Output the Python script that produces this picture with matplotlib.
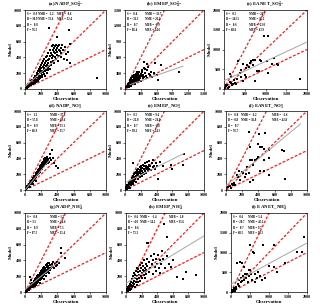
import matplotlib
matplotlib.use("Agg")
import matplotlib.pyplot as plt
import numpy as np

plt.rcParams['font.family'] = ['Liberation Serif', 'DejaVu Serif']
plt.rcParams['font.weight'] = 'bold'
plt.rcParams['mathtext.default'] = 'regular'

titles = ["(a) NADP_SO$_4^{2-}$", "(b) EMEP_SO$_4^{2-}$", "(c) EANET_SO$_4^{2-}$",
          "(d) NADP_NO$_3^{-}$", "(e) EMEP_NO$_3^{-}$", "(f) EANET_NO$_3^{-}$",
          "(g) NADP_NH$_4^{+}$", "(h) EMEP_NH$_4^{+}$", "(i) EANET_NH$_4^{+}$"]
limits = [1000, 1500, 2000, 1000, 1000, 1000, 1000, 1000, 2000]
tick_steps = [200, 300, 500, 200, 200, 200, 200, 200, 500]

# stats per panel
S = [0.9, 0.4, 0.5, 1.2, 0.5, 0.8, 0.8, 0.6, 0.6]
B = [30.9, -31.3, -141.5, 57.8, -22.0, -8.8, 3.5, -4.0, -28.7]
R = [0.8, 0.7, 0.6, 0.9, 0.7, 0.7, 0.9, 0.6, 0.7]
F = [76.5, 86.4, 68.6, 66.9, 90.2, 76.7, 87.5, 75.3, 60.5]
NMB = [2.2, -13.7, -24.7, 37.6, 9.4, 6.2, 1.2, -1.4, 5.4]
NME = [32.6, 26.2, 36.2, 39.6, 24.9, 36.8, 24.6, 34.2, 45.1]
MFB = [8.6, -6.9, -23.0, 33.1, -4.8, -2.6, 7.1, 1.0, 9.7]
MFE = [32.4, 24.6, 43.9, 35.7, 24.3, 42.8, 25.4, 35.6, 50.3]

# regression lines (slope, intercept, x range)
reg_slope = [0.9, 0.35, 0.49, 1.25, 0.5, 0.85, 0.85, 0.6, 0.52]
reg_int = [30, 50, 210, 0, 90, 55, 30, 110, 200]
reg_x0 = [0, 95, 0, 0, 20, 0, 0, 10, 0]
reg_x1 = [500, 1100, 1980, 300, 744, 920, 420, 1000, 1980]

a_pts = [(10,20),(15,30),(20,15),(25,40),(30,25),(35,50),(40,30),(45,60),(50,45),(55,35),(60,70),(65,55),(70,80),(75,50),(80,95),(85,65),(90,110),(95,80),(100,60),(100,120),(105,90),(110,140),(115,100),(120,75),(120,160),(125,130),(130,110),(135,170),(140,90),(140,150),(145,200),(150,120),(150,180),(155,140),(160,230),(160,100),(165,190),(170,160),(170,250),(175,130),(180,210),(180,280),(185,170),(190,240),(190,140),(195,300),(200,200),(200,260),(205,180),(210,330),(210,230),(215,150),(220,280),(220,360),(225,210),(230,250),(230,310),(235,190),(240,380),(240,270),(245,230),(250,330),(250,160),(255,290),(260,400),(260,240),(265,350),(270,200),(270,310),(275,420),(280,270),(280,370),(285,240),(290,330),(290,460),(295,290),(300,380),(300,767),(305,250),(310,420),(310,500),(315,340),(320,460),(325,300),(330,540),(330,390),(335,430),(340,360),(345,500),(350,420),(350,560),(355,470),(360,330),(360,520),(365,400),(370,540),(375,450),(380,380),(380,500),(385,560),(390,430),(395,520),(400,664),(400,470),(405,360),(410,540),(415,500),(420,420),(425,560),(430,480),(440,520),(445,400),(450,460),(460,560),(470,490),(480,380),(490,530),(500,440),(514,365),(530,470),(547,747),(555,573),(555,324),(893,137)]
b_pts = [(20,40),(30,60),(40,30),(50,80),(55,50),(60,100),(65,70),(70,40),(75,120),(80,90),(85,60),(90,140),(95,110),(100,80),(100,170),(105,130),(110,100),(115,60),(120,150),(120,200),(125,120),(130,90),(135,170),(140,140),(140,220),(145,110),(150,180),(155,150),(160,240),(160,120),(165,200),(170,170),(175,140),(180,260),(180,210),(185,100),(190,180),(195,230),(200,150),(200,290),(210,200),(215,260),(220,130),(220,320),(225,230),(230,180),(240,300),(240,210),(250,160),(250,260),(260,220),(270,330),(275,180),(280,250),(290,210),(300,280),(315,352),(310,160),(320,240),(330,330),(340,200),(350,270),(360,390),(365,510),(370,230),(378,384),(380,300),(400,250),(410,478),(410,360),(420,210),(441,415),(450,290),(473,258),(500,330),(520,230),(560,300),(567,497),(600,260),(630,164),(693,447),(1020,315)]
c_pts = [(30,30),(40,84),(60,110),(73,109),(97,25),(110,60),(137,168),(137,378),(160,140),(178,311),(200,100),(218,126),(240,220),(260,150),(300,126),(320,250),(348,714),(380,400),(400,300),(420,480),(460,630),(460,210),(500,350),(520,520),(542,294),(560,600),(600,560),(620,650),(640,700),(688,731),(700,600),(745,731),(745,210),(785,450),(850,445),(866,731),(900,700),(955,1345),(1028,714),(1052,395),(1069,1345),(1150,630),(1206,773),(1271,630),(1300,600),(1838,250)]
d_pts = [(5,10),(10,15),(15,20),(20,25),(20,35),(25,30),(30,45),(35,40),(40,55),(45,60),(50,50),(50,75),(55,70),(60,40),(60,80),(65,90),(70,75),(70,100),(75,110),(80,95),(85,120),(90,105),(90,130),(95,140),(100,70),(100,115),(100,150),(105,130),(110,160),(115,140),(115,175),(120,150),(125,180),(125,160),(130,190),(135,170),(135,210),(140,110),(140,180),(145,200),(145,230),(150,190),(155,220),(155,250),(160,200),(160,240),(165,230),(170,260),(170,210),(175,250),(180,280),(180,230),(185,260),(190,300),(190,240),(195,280),(200,320),(200,260),(205,300),(210,340),(210,270),(215,310),(220,290),(220,350),(225,330),(230,300),(230,370),(235,340),(240,310),(240,390),(245,360),(250,330),(250,400),(255,350),(260,380),(265,330),(267,399),(270,360),(275,420),(280,340),(285,390),(290,370),(300,350),(309,462),(310,400),(320,380),(329,504),(350,399),(360,340),(380,300),(411,273)]
e_pts = [(10,20),(15,40),(20,10),(25,30),(30,60),(35,25),(40,50),(45,80),(50,40),(55,100),(60,70),(65,30),(70,90),(75,120),(80,60),(85,110),(90,150),(95,80),(100,130),(100,180),(105,100),(105,336),(110,160),(115,200),(120,120),(120,170),(125,140),(130,210),(135,180),(140,100),(140,230),(145,160),(150,200),(155,250),(160,140),(160,190),(165,230),(170,270),(175,180),(180,210),(185,250),(190,160),(190,290),(195,230),(200,200),(200,270),(205,310),(210,240),(215,180),(220,280),(225,220),(230,320),(235,260),(240,200),(245,300),(250,240),(255,340),(260,280),(265,220),(270,310),(275,260),(280,350),(285,290),(290,240),(300,320),(305,270),(310,370),(320,300),(330,250),(340,340),(350,290),(360,380),(370,310),(380,260),(390,340),(400,300),(420,139),(440,360),(480,300),(588,315),(600,260),(735,315),(744,462)]
f_pts = [(29,34),(50,50),(91,63),(112,63),(132,189),(165,244),(174,126),(215,210),(236,168),(256,294),(289,218),(289,735),(298,546),(298,386),(298,105),(318,380),(339,315),(339,126),(360,378),(380,390),(401,588),(413,714),(421,546),(421,244),(442,546),(463,520),(463,244),(483,723),(525,512),(525,399),(525,189),(690,504),(719,496),(731,139),(60,30),(70,80),(100,90),(150,160),(200,230),(250,200),(400,420),(470,380)]
g_pts = [(5,10),(10,20),(15,5),(20,30),(25,15),(30,40),(35,25),(40,50),(45,30),(50,60),(55,45),(60,80),(62,191),(65,50),(70,90),(75,60),(80,100),(80,150),(85,70),(90,120),(95,85),(100,60),(100,110),(105,140),(110,95),(115,130),(120,80),(120,160),(125,115),(130,145),(135,100),(135,180),(140,90),(140,130),(145,160),(150,110),(150,200),(155,150),(160,180),(165,130),(165,220),(170,170),(175,200),(180,110),(180,150),(180,240),(185,190),(190,220),(195,170),(195,260),(200,200),(205,240),(210,180),(210,280),(215,220),(220,260),(225,200),(225,300),(230,160),(230,240),(235,280),(240,220),(240,320),(245,260),(250,300),(255,240),(260,200),(260,340),(265,280),(270,250),(270,320),(275,360),(280,290),(285,260),(288,370),(290,330),(295,300),(300,240),(300,370),(305,280),(310,340),(320,300),(330,360),(340,320),(350,319),(350,380),(360,300),(370,350),(380,330),(390,380),(400,340),(420,370),(444,562),(444,498),(494,426)]
h_pts = [(10,20),(15,40),(20,10),(25,60),(30,30),(35,80),(40,50),(45,20),(50,100),(55,70),(60,130),(65,40),(70,90),(75,160),(80,60),(85,120),(90,200),(95,80),(100,140),(100,240),(105,100),(110,180),(115,60),(120,220),(125,130),(130,270),(135,170),(140,90),(140,310),(145,200),(150,250),(155,130),(160,290),(165,180),(170,220),(175,340),(180,140),(185,260),(190,200),(195,300),(200,240),(200,370),(210,180),(215,280),(220,330),(225,220),(230,400),(235,260),(240,180),(245,310),(250,360),(255,230),(260,280),(267,617),(270,420),(275,330),(288,617),(290,250),(300,380),(310,300),(320,450),(330,350),(340,230),(350,400),(360,480),(370,320),(380,270),(390,420),(400,360),(410,470),(420,300),(430,400),(440,240),(450,350),(457,520),(470,420),(483,860),(500,300),(521,694),(530,450),(550,360),(580,320),(600,400),(648,191),(733,170),(775,255),(903,213)]
i_pts = [(20,10),(30,40),(40,20),(50,60),(60,30),(70,80),(80,50),(90,100),(100,20),(120,70),(140,130),(158,740),(180,200),(200,150),(220,300),(246,766),(250,250),(270,350),(290,723),(300,280),(320,400),(333,638),(350,300),(380,450),(400,350),(421,468),(450,250),(465,553),(480,400),(509,553),(509,1191),(530,460),(553,298),(579,1021),(596,979),(620,450),(640,255),(680,350),(720,500),(760,400),(816,298),(842,1191),(900,350),(1000,650),(1123,638),(1123,1191),(1200,500),(1430,740),(1737,1004),(1868,1004),(1912,1387)]
panel_pts = [a_pts, b_pts, c_pts, d_pts, e_pts, f_pts, g_pts, h_pts, i_pts]

# layout (pixels: left, right, top, bottom)
W, H = 320, 308
boxes = [(25,106,10,89),(125,204,10,89),(224,307,10,89),
         (25,106,111,190),(125,204,111,190),(226,307,111,190),
         (25,106,213,292),(126,204,213,292),(231,307,213,292)]
three_col = [True, False, False, False, False, True, False, True, False]
col2_x = [0.155, 0.25, 0.30, 0.31, 0.25, 0.19, 0.31, 0.18, 0.23]
col3_x = [0.39, None, None, None, None, 0.57, None, 0.55, None]

fig = plt.figure(figsize=(W/100, H/100), dpi=100)
fs_tick = 3.0
fs_stat = 2.2
for k in range(9):
    l, r, t, b = boxes[k]
    ax = fig.add_axes([l/W, 1-b/H, (r-l)/W, (b-t)/H])
    lim = limits[k]
    pts = np.array(panel_pts[k], dtype=float)
    # reference lines
    dash = (0, (2.2, 1.4))
    ax.plot([0, lim], [0, lim], color='#ff1a1a', ls=dash, lw=0.9, zorder=2)
    ax.plot([0, lim/2], [0, lim], color='#ff1a1a', ls=dash, lw=0.9, zorder=2)
    ax.plot([0, lim], [0, lim/2], color='#ff1a1a', ls=dash, lw=0.9, zorder=2)
    ax.scatter(pts[:, 0], pts[:, 1], s=2.2, marker='s', color='black', lw=0, zorder=3)
    xs = np.array([reg_x0[k], reg_x1[k]])
    ax.plot(xs, reg_slope[k]*xs + reg_int[k], color='#a6a6a6', lw=0.7, zorder=4)
    ax.set_xlim(0, lim)
    ax.set_ylim(0, lim)
    ticks = np.arange(0, lim + 1, tick_steps[k])
    ax.set_xticks(ticks)
    ax.set_yticks(ticks)
    ax.tick_params(labelsize=fs_tick, length=1.2, width=0.4, pad=1)
    for lab in ax.get_xticklabels() + ax.get_yticklabels():
        lab.set_fontweight('bold')
    for sp in ax.spines.values():
        sp.set_linewidth(0.5)
    ax.set_title(titles[k], fontsize=3.5, fontweight='bold', pad=0.3)
    ax.set_xlabel('Observation', fontsize=3.6, fontweight='bold', labelpad=1)
    ax.set_ylabel('Model', fontsize=3.6, fontweight='bold', labelpad=1)
    ys = [0.955, 0.885, 0.815, 0.745]
    tk = dict(transform=ax.transAxes, fontsize=fs_stat, fontweight='bold', va='center', ha='left', zorder=5)
    x1 = 0.025
    ax.text(x1, ys[0], f"S =   {S[k]:.1f}", **tk)
    ax.text(x1, ys[1], f"B = {B[k]:.1f}", **tk)
    ax.text(x1, ys[2], f"R =   {R[k]:.1f}", **tk)
    ax.text(x1, ys[3], f"F = {F[k]:.1f}", **tk)
    if three_col[k]:
        ax.text(col2_x[k], ys[0], f"NMB =   {NMB[k]:.1f}", **tk)
        ax.text(col2_x[k], ys[1], f"NME = {NME[k]:.1f}", **tk)
        ax.text(col3_x[k], ys[0], f"MFB =  {MFB[k]:.1f}", **tk)
        ax.text(col3_x[k], ys[1], f"MFE = {MFE[k]:.1f}", **tk)
    else:
        ax.text(col2_x[k], ys[0], f"NMB = {NMB[k]:.1f}", **tk)
        ax.text(col2_x[k], ys[1], f"NME = {NME[k]:.1f}", **tk)
        ax.text(col2_x[k], ys[2], f"MFB = {MFB[k]:.1f}", **tk)
        ax.text(col2_x[k], ys[3], f"MFE = {MFE[k]:.1f}", **tk)

fig.savefig('out.png', dpi=100)
